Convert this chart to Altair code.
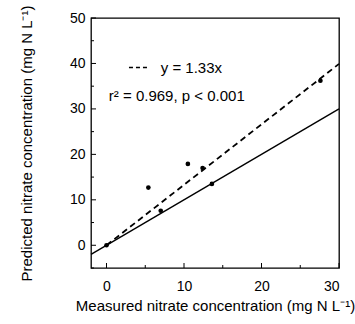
import altair as alt
import pandas as pd

measured = [0.0, 5.4, 7.0, 10.5, 12.4, 13.6, 27.6]
predicted = [0.0, 12.7, 7.6, 17.9, 17.0, 13.5, 36.2]

one_x = [-2, 30]
one_y = [-2, 30]
fit_x = [0, 30]
fit_y = [0, 39.9]

x_major = [0, 10, 20, 30]
x_minor = [5, 15, 25]
y_major = [0, 10, 20, 30, 40, 50]
y_minor = [-5, 5, 15, 25, 35, 45]

legend_x = [2.9, 5.4]
legend_y = [39.1, 39.1]
ann_text = ["y = 1.33x", "r² = 0.969, p < 0.001"]
ann_x = [7.0, 0.3]
ann_y = [39.1, 32.8]

FONT = "Liberation Sans"
W, H = 248, 250

xs = alt.Scale(domain=[-2, 30], nice=False, zero=False)
ys = alt.Scale(domain=[-5, 50], nice=False, zero=False)

pts = pd.DataFrame({"x": measured, "y": predicted})
one = pd.DataFrame({"x": one_x, "y": one_y})
fit = pd.DataFrame({"x": fit_x, "y": fit_y})
leg = pd.DataFrame({"x": legend_x, "y": legend_y})
ann = pd.DataFrame({"t": ann_text, "x": ann_x, "y": ann_y})

xaxis = alt.Axis(values=x_major, format="d", ticks=False, tickSize=0, domain=False, grid=False,
                 labelFont=FONT, labelFontSize=14, labelColor="black", labelPadding=11,
                 title="Measured nitrate concentration (mg N L⁻¹)", titleFont=FONT,
                 titleFontSize=15, titleFontWeight="normal", titleColor="black", titlePadding=5)
yaxis = alt.Axis(values=y_major, format="d", ticks=False, tickSize=0, domain=False, grid=False,
                 labelFont=FONT, labelFontSize=14, labelColor="black", labelPadding=6,
                 title="Predicted nitrate concentration (mg N L⁻¹)", titleFont=FONT,
                 titleFontSize=15, titleFontWeight="normal", titleColor="black", titlePadding=35)

base_points = alt.Chart(pts).mark_circle(color="black", opacity=1, size=22).encode(
    x=alt.X("x:Q", scale=xs, axis=xaxis),
    y=alt.Y("y:Q", scale=ys, axis=yaxis),
)

one_line = alt.Chart(one).mark_line(color="black", strokeWidth=1.4).encode(
    x=alt.X("x:Q", scale=xs), y=alt.Y("y:Q", scale=ys))
fit_line = alt.Chart(fit).mark_line(color="black", strokeWidth=1.8, strokeDash=[6, 4]).encode(
    x=alt.X("x:Q", scale=xs), y=alt.Y("y:Q", scale=ys))
leg_line = alt.Chart(leg).mark_line(color="black", strokeWidth=1.6, strokeDash=[4, 3]).encode(
    x=alt.X("x:Q", scale=xs), y=alt.Y("y:Q", scale=ys))
ann_marks = alt.Chart(ann).mark_text(font=FONT, fontSize=15, align="left", baseline="middle",
                                     color="black").encode(
    x=alt.X("x:Q", scale=xs), y=alt.Y("y:Q", scale=ys), text="t:N")

xmaj = alt.Chart(pd.DataFrame({"v": x_major})).mark_rule(color="black", strokeWidth=1).encode(
    x=alt.X("v:Q", scale=xs), y=alt.value(H), y2=alt.value(H - 5))
xmin = alt.Chart(pd.DataFrame({"v": x_minor})).mark_rule(color="black", strokeWidth=1).encode(
    x=alt.X("v:Q", scale=xs), y=alt.value(H), y2=alt.value(H - 3))
ymaj = alt.Chart(pd.DataFrame({"v": y_major})).mark_rule(color="black", strokeWidth=1).encode(
    y=alt.Y("v:Q", scale=ys), x=alt.value(0), x2=alt.value(5))
ymin = alt.Chart(pd.DataFrame({"v": y_minor})).mark_rule(color="black", strokeWidth=1).encode(
    y=alt.Y("v:Q", scale=ys), x=alt.value(0), x2=alt.value(3))

chart = alt.layer(base_points, one_line, fit_line, leg_line, ann_marks, xmaj, xmin, ymaj, ymin).properties(
    width=W, height=H,
    autosize=alt.AutoSizeParams(type="none"),
    padding={"left": 91, "top": 18, "right": 16, "bottom": 56},
    background="white",
).configure_view(stroke="black", strokeWidth=1.3)

chart.save("out.html", embed_options={"renderer": "svg", "actions": False})
